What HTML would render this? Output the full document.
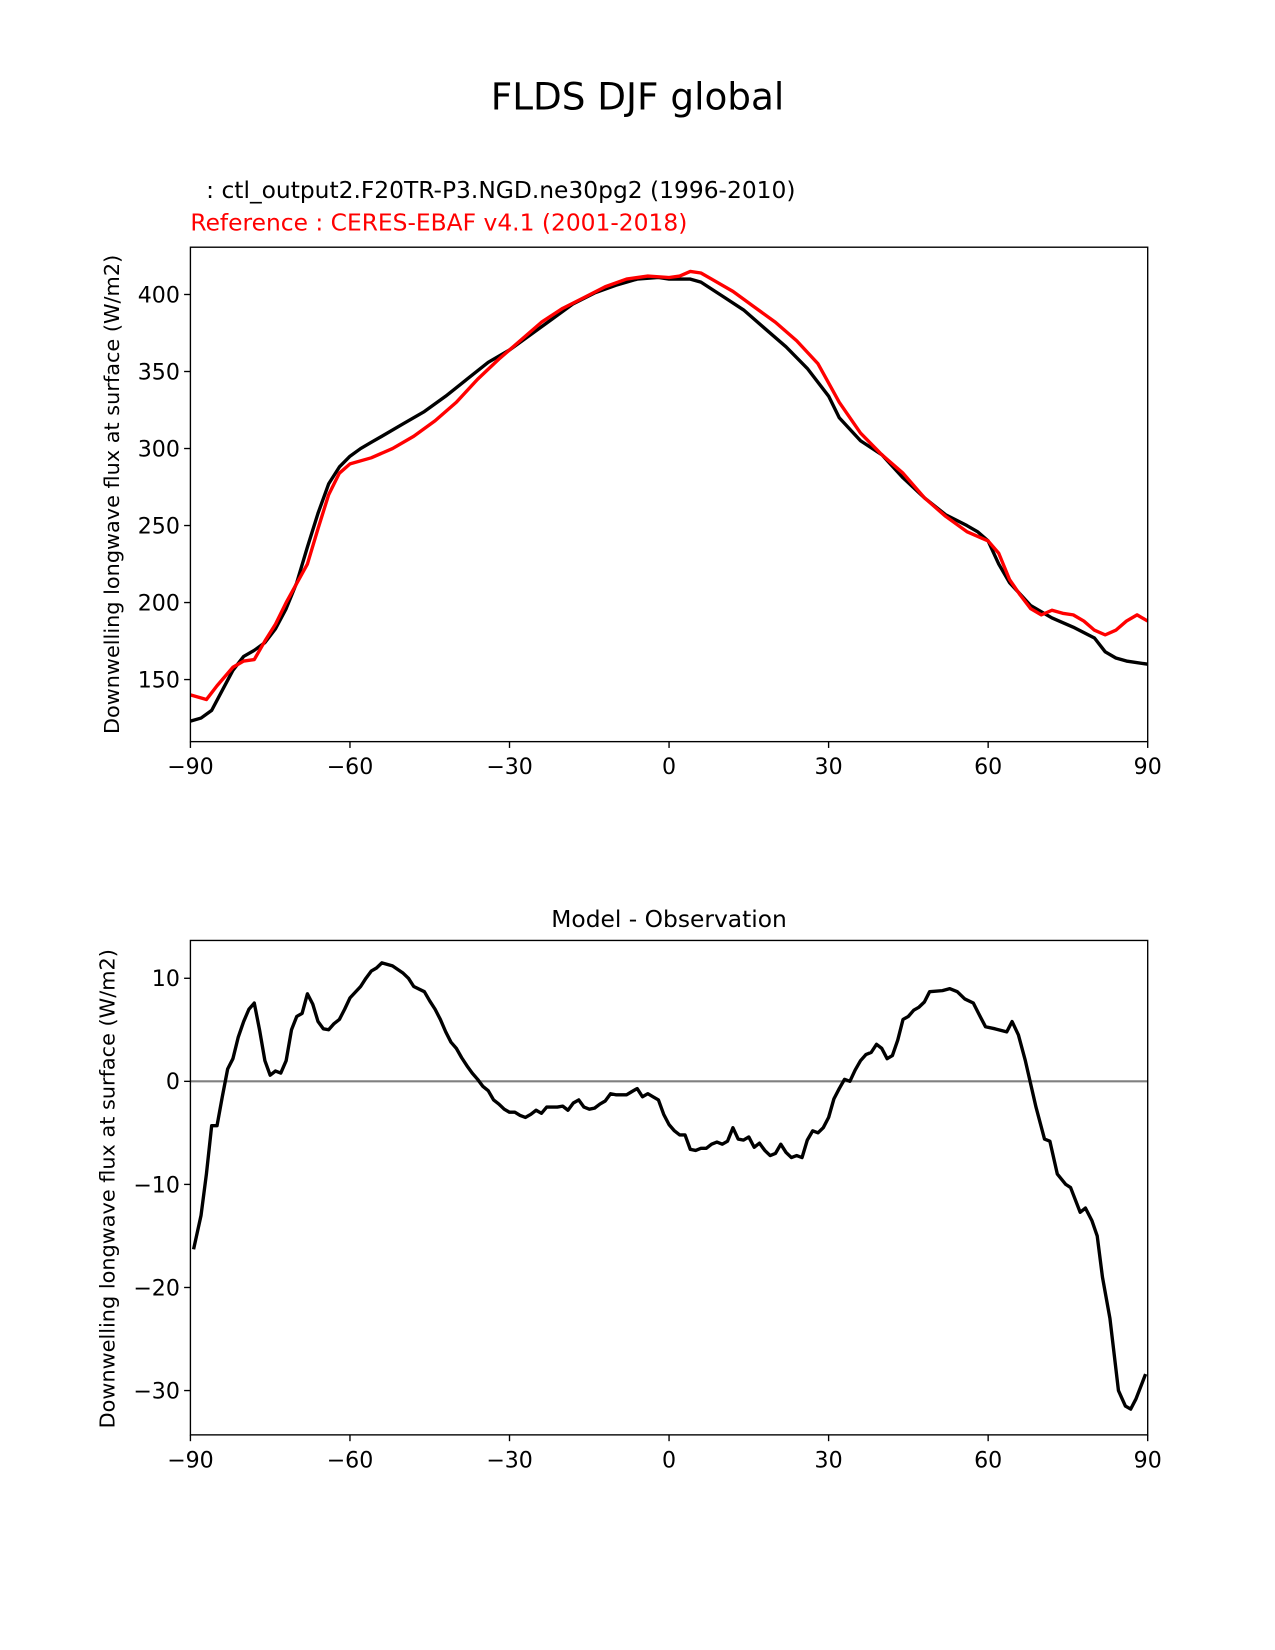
<!DOCTYPE html>
<html><head><meta charset="utf-8"><style>
body{margin:0;background:#fff}
svg{display:block;font-family:"DejaVu Sans","Liberation Sans",sans-serif}
</style></head><body>
<svg id="fig" width="1275" height="1650" viewBox="0 0 1212 1568.5">
<text x="606" y="104" font-size="35.5" text-anchor="middle">FLDS DJF global</text>
<text x="196" y="188" font-size="22.2">: ctl_output2.F20TR-P3.NGD.ne30pg2 (1996-2010)</text>
<text x="181" y="219" font-size="22.2" fill="#ff0000">Reference : CERES-EBAF v4.1 (2001-2018)</text>
<text x="636" y="881" font-size="22.2" text-anchor="middle">Model - Observation</text>
<text transform="translate(113,470) rotate(-90)" font-size="19.8" text-anchor="middle">Downwelling longwave flux at surface (W/m2)</text>
<text transform="translate(109,1130) rotate(-90)" font-size="19.8" text-anchor="middle">Downwelling longwave flux at surface (W/m2)</text>
<g id="top"></g>
<g id="bot"></g>
</svg>
<script>
const modelLat=[-90,-88,-86,-84,-82,-80,-78,-76,-74,-72,-70,-68,-66,-64,-62,-60,-58,-56,-54,-50,-46,-42,-38,-34,-30,-26,-22,-18,-14,-10,-6,-2,0,4,6,10,14,18,22,26,30,32,36,40,44,48,52,56,58,60,62,64,68,72,76,80,82,84,86,90];
const modelVal=[123,125,130,143,156,165,169,174,183,196,213,236,258,277,288,295,300,304,308,316,324,334,345,356,364,374,384,394,401,406,410,411,410,410,408,399,390,378,366,352,334,320,305,296,281,268,257,250,246,240,225,213,198,190,184,177,168,164,162,160];
const obsLat=[-90,-87,-85,-82,-80,-78,-76,-74,-72,-68,-66,-64,-62,-60,-56,-52,-48,-44,-40,-36,-32,-28,-24,-20,-16,-12,-8,-4,0,2,4,6,8,12,16,20,24,28,32,36,40,44,48,52,56,60,62,64,66,68,70,72,74,76,78,80,82,84,86,88,90];
const obsVal=[140,137,146,158,162,163,175,186,200,225,248,270,284,290,294,300,308,318,330,345,358,370,382,391,398,405,410,412,411,412,415,414,410,402,392,382,370,355,330,310,296,284,268,256,246,240,232,215,205,196,192,195,193,192,188,182,179,182,188,192,188];
const diffLat=[-89.4,-88,-87,-86,-85,-84,-83,-82,-81,-80,-79,-78,-77,-76,-75,-74,-73,-72,-71,-70,-69,-68,-67,-66,-65,-64,-63,-62,-61,-60,-58,-57,-56,-55,-54,-52,-50,-49,-48,-46,-45,-44,-43,-42,-41,-40,-39,-38,-37,-36,-35,-34,-33,-32,-31,-30,-29,-28,-27,-26,-25,-24,-23,-21,-20,-19,-18,-17,-16,-15,-14,-13,-12,-11,-10,-8,-7,-6,-5,-4,-3,-2,-1,0,1,2,3,4,5,6,7,8,9,10,11,12,13,14,15,16,17,18,19,20,21,22,23,24,25,26,27,28,29,30,31,32,33,34,35,36,37,38,39,40,41,42,43,44,45,46,47,48,49,51.4,52.8,54.2,55.6,57.2,58.3,59.5,61.3,63.5,64.5,65.7,67,69,70.6,71.6,73,74.6,75.5,77.3,78.3,79.5,80.5,81.5,82.9,84.5,85.8,86.8,87.8,89.6];
const diffVal=[-16.3,-13,-9,-4.3,-4.3,-1.5,1.2,2.2,4.3,5.8,7,7.6,5,2,0.6,1,0.8,2,5,6.3,6.6,8.5,7.5,5.8,5.1,5,5.6,6,7,8.1,9.2,10,10.7,11,11.5,11.2,10.5,10,9.2,8.7,7.8,7,6,4.8,3.8,3.2,2.3,1.5,0.8,0.2,-0.5,-0.9,-1.8,-2.2,-2.7,-3,-3,-3.3,-3.5,-3.2,-2.8,-3.1,-2.5,-2.5,-2.4,-2.8,-2.1,-1.8,-2.5,-2.7,-2.6,-2.2,-1.9,-1.2,-1.3,-1.3,-1,-0.7,-1.5,-1.2,-1.5,-1.8,-3.2,-4.2,-4.8,-5.2,-5.2,-6.6,-6.7,-6.5,-6.5,-6.1,-5.9,-6.1,-5.8,-4.5,-5.6,-5.7,-5.4,-6.4,-6,-6.7,-7.2,-7,-6.1,-6.9,-7.4,-7.2,-7.4,-5.7,-4.8,-5,-4.5,-3.5,-1.7,-0.7,0.2,0,1.1,2,2.6,2.8,3.6,3.2,2.2,2.5,4,6,6.3,6.9,7.2,7.7,8.7,8.8,9,8.7,8,7.6,6.5,5.3,5.1,4.8,5.8,4.5,2,-2.5,-5.6,-5.8,-9,-10,-10.3,-12.7,-12.3,-13.5,-15,-19,-23,-30,-31.5,-31.8,-30.8,-28.4];
const xTicks=[-90,-60,-30,0,30,60,90];
const xTickLabels=["\u221290","\u221260","\u221230","0","30","60","90"];
const topYTicks=[150,200,250,300,350,400];
const botYTicks=[-30,-20,-10,0,10];
const NS="http://www.w3.org/2000/svg";
function mk(p,t,a){const e=document.createElementNS(NS,t);for(const k in a)e.setAttribute(k,a[k]);p.appendChild(e);return e;}
function panel(g,y0,y1,ymin,ymax,yticks,series,zero){
  const X0=181,X1=1091;
  const sx=v=>X0+(v+90)/180*(X1-X0);
  const sy=v=>y1-(v-ymin)/(ymax-ymin)*(y1-y0);
  if(zero){const z=mk(g,'line',{x1:X0,x2:X1,y1:sy(0),y2:sy(0),stroke:'#808080','stroke-width':2});
    
    }
  series.forEach(s=>{
    const d=s.lat.map((v,i)=>(i?'L':'M')+sx(v).toFixed(1)+','+sy(s.val[i]).toFixed(1)).join('');
    const p=mk(g,'path',{d:d,fill:'none',stroke:s.color,'stroke-width':3.2,'stroke-linejoin':'round'});
    
    
  });
  const f=mk(g,'rect',{x:X0,y:y0,width:X1-X0,height:y1-y0,fill:'none',stroke:'#000','stroke-width':1.3});
  
  
  xTicks.forEach((v,i)=>{
    mk(g,'line',{x1:sx(v),x2:sx(v),y1:y1,y2:y1+6,stroke:'#000','stroke-width':1.3});
    const t=mk(g,'text',{x:sx(v),y:y1+31,'font-size':21,'text-anchor':'middle'});
    t.textContent=xTickLabels[i];
    
    
  });
  yticks.forEach(v=>{
    mk(g,'line',{x1:X0-6,x2:X0,y1:sy(v),y2:sy(v),stroke:'#000','stroke-width':1.3});
    const t=mk(g,'text',{x:X0-10,y:sy(v)+7.5,'font-size':21,'text-anchor':'end'});
    t.textContent=v<0?'\u2212'+(-v):String(v);
    
    
  });
}
panel(document.getElementById('top'),235,705,109.7,430.7,topYTicks,[
  {lat:modelLat,val:modelVal,color:'#000',name:'model-line'},
  {lat:obsLat,val:obsVal,color:'#ff0000',name:'reference-line'}],false);
panel(document.getElementById('bot'),894,1364,-34.3,13.67,botYTicks,[
  {lat:diffLat,val:diffVal,color:'#000',name:'difference-line'}],true);
</script>
</body></html>
